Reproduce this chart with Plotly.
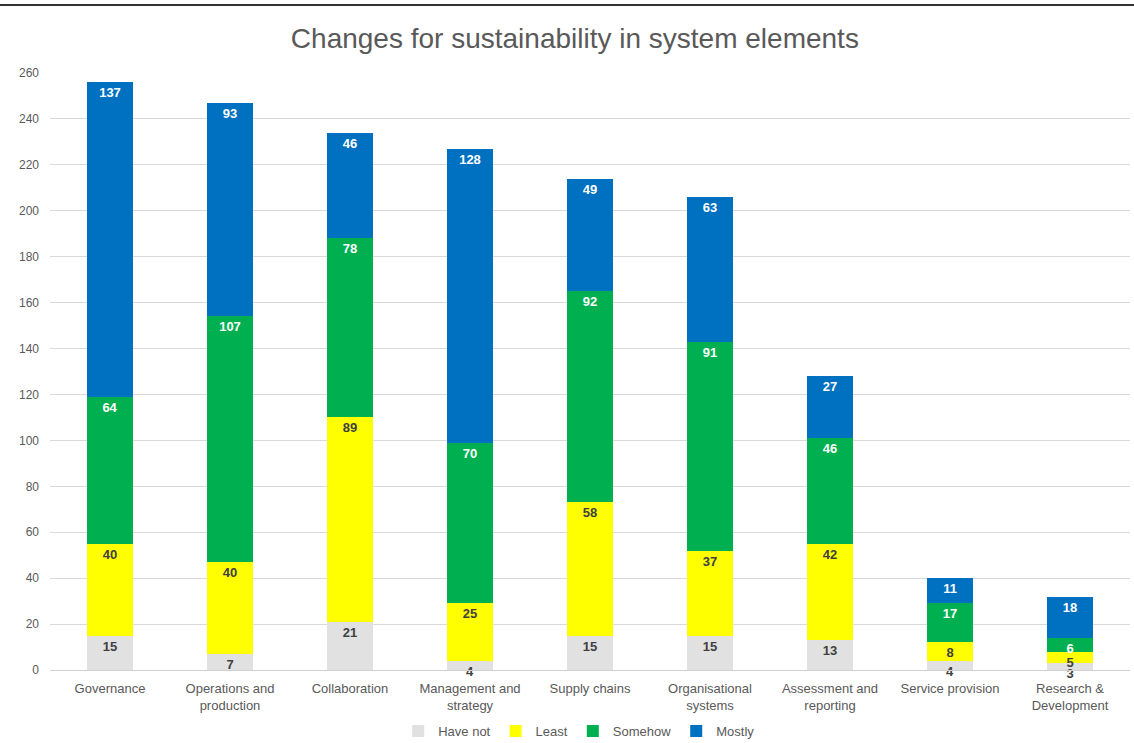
import plotly.graph_objects as go

categories = ["Governance", "Operations and<br>production", "Collaboration",
              "Management and<br>strategy", "Supply chains", "Organisational<br>systems",
              "Assessment and<br>reporting", "Service provision", "Research &<br>Development"]
have_not = [15, 7, 21, 4, 15, 15, 13, 4, 3]
least = [40, 40, 89, 25, 58, 37, 42, 8, 5]
somehow = [64, 107, 78, 70, 92, 91, 46, 17, 6]
mostly = [137, 93, 46, 128, 49, 63, 27, 11, 18]
y_ticks = list(range(0, 261, 20))

series = [
    ("Have not", have_not, "#e1e1e1", "#404040"),
    ("Least", least, "#ffff00", "#404040"),
    ("Somehow", somehow, "#00b050", "#ffffff"),
    ("Mostly", mostly, "#0070c0", "#ffffff"),
]

fig = go.Figure()
for name, vals, color, tcolor in series:
    fig.add_trace(go.Bar(
        name=name, x=categories, y=vals,
        marker=dict(color=color, line=dict(width=0)),
        text=vals, textposition="inside", insidetextanchor="end",
        textangle=0, constraintext="none", cliponaxis=False,
        textfont=dict(family="Liberation Sans, Arial, sans-serif", size=13,
                      color=tcolor, weight="bold"),
    ))

fig.update_layout(
    width=1134, height=743,
    barmode="stack", bargap=0.617,
    paper_bgcolor="white", plot_bgcolor="white",
    margin=dict(l=50, r=4, t=73, b=73),
    font=dict(family="Liberation Sans, Arial, sans-serif", color="#595959", size=13),
    title=dict(text="Changes for sustainability in system elements",
               x=0.486, xanchor="center", xref="paper", y=1 - 38 / 743, yanchor="middle",
               font=dict(size=28, color="#595959")),
    uniformtext=dict(minsize=13, mode="show"),
    legend=dict(orientation="h", x=0.49, xanchor="center",
                yref="container", y=(743 - 731) / 743, yanchor="middle",
                font=dict(size=13, color="#595959"), itemwidth=30,
                traceorder="normal"),
    showlegend=True,
)
fig.update_xaxes(showgrid=False, showline=True, linecolor="#d0d0d0", linewidth=1,
                 tickfont=dict(size=13, color="#595959"), ticks="",
                 ticklabelstandoff=6)
fig.update_yaxes(range=[0, 260], tickvals=y_ticks, showgrid=True, gridcolor="#d9d9d9",
                 gridwidth=1, zeroline=False, showline=False,
                 tickfont=dict(size=12, color="#595959"), ticks="",
                 ticklabelstandoff=10)
fig.add_shape(type="line", xref="paper", yref="paper",
              x0=-50 / 1080, x1=1 + 4 / 1080,
              y0=1 + (73 - 5) / 597, y1=1 + (73 - 5) / 597,
              line=dict(color="#333333", width=2))

fig.write_html("out.html")
